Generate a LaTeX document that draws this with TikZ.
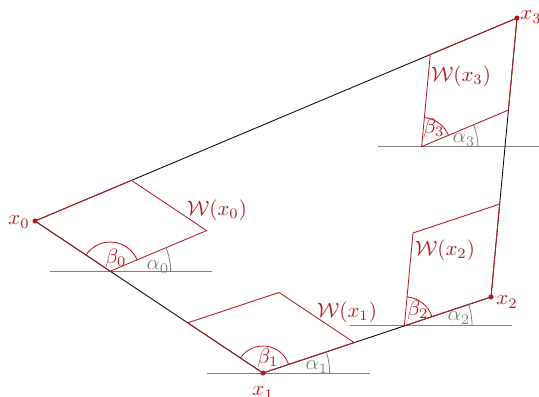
\documentclass[tikz,border=0pt]{standalone}
\usepackage{amsmath,amssymb}
\usetikzlibrary{calc,angles}
\definecolor{wred}{RGB}{178,24,30}

\begin{document}
\begin{tikzpicture}[x=0.48pt, y=-0.48pt,
  wedge/.style={draw=wred},
  horiz/.style={draw=gray},
  lab/.style={text=wred},
  glab/.style={text=gray}]
\useasboundingbox (0,0) rectangle (539,396);

\coordinate (x0) at (35,221);
\coordinate (x1) at (263,373);
\coordinate (x2) at (491,297);
\coordinate (x3) at (517,18);

% corners of the wedges
\coordinate (a0) at ($(x0)!0.33!(x1)$);
\coordinate (b0) at ($(x0)!0.2!(x3)$);
\coordinate (c0) at ($(a0)+(b0)-(x0)$);
\coordinate (a1) at ($(x1)!0.33!(x0)$);
\coordinate (b1) at ($(x1)!0.4!(x2)$);
\coordinate (c1) at ($(a1)+(b1)-(x1)$);
\coordinate (a2) at ($(x2)!0.38!(x1)$);
\coordinate (b2) at ($(x2)!0.333!(x3)$);
\coordinate (c2) at ($(a2)+(b2)-(x2)$);
\coordinate (a3) at ($(x3)!0.33!(x2)$);
\coordinate (b3) at ($(x3)!0.18!(x0)$);
\coordinate (c3) at ($(a3)+(b3)-(x3)$);

% horizontal lines
\coordinate (h0l) at ($(a0)+(-60,0)$);
\coordinate (h0r) at ($(a0)+(102,0)$);
\coordinate (h1l) at ($(x1)+(-56,0)$);
\coordinate (h1r) at ($(x1)+(107,0)$);
\coordinate (h2l) at ($(a2)+(-54,0)$);
\coordinate (h2r) at ($(a2)+(108,0)$);
\coordinate (h3l) at ($(c3)+(-44,0)$);
\coordinate (h3r) at ($(c3)+(118,0)$);

\draw[horiz] (h0l) -- (h0r);
\draw[horiz] (h1l) -- (h1r);
\draw[horiz] (h2l) -- (h2r);
\draw[horiz] (h3l) -- (h3r);

\draw (x0) -- (x1) -- (x2) -- (x3) -- cycle;

\draw[wedge] (x0) -- (a0) -- (c0) -- (b0) -- cycle;
\draw[wedge] (x1) -- (a1) -- (c1) -- (b1) -- cycle;
\draw[wedge] (x2) -- (a2) -- (c2) -- (b2) -- cycle;
\draw[wedge] (x3) -- (a3) -- (c3) -- (b3) -- cycle;

% angles
\pic[draw=wred, angle radius=14pt] {angle=c0--a0--x0};
\pic[draw=gray, angle radius=29pt] {angle=h0r--a0--c0};
\pic[draw=wred, angle radius=13pt] {angle=b1--x1--a1};
\pic[draw=gray, angle radius=32pt] {angle=h1r--x1--b1};
\pic[draw=wred, angle radius=14pt] {angle=x2--a2--c2};
\pic[draw=gray, angle radius=32.5pt] {angle=h2r--a2--x2};
\pic[draw=wred, angle radius=14pt] {angle=a3--c3--b3};
\pic[draw=gray, angle radius=27pt] {angle=h3r--c3--a3};

\fill[wred] (x0) circle (1.2pt);
\fill[wred] (x1) circle (1.2pt);
\fill[wred] (x2) circle (1.2pt);
\fill[wred] (x3) circle (1.2pt);

\node[lab] (l0) at (19,222) {$x_0$};
\node[lab] (l1) at (263,393) {$x_1$};
\node[lab] (l2) at (507,302) {$x_2$};
\node[lab] (l3) at (531,17) {$x_3$};

\node[lab] (w0) at (217,210) {$\mathcal{W}(x_0)$};
\node[lab] (w1) at (347,312) {$\mathcal{W}(x_1)$};
\node[lab] (w2) at (445,250) {$\mathcal{W}(x_2)$};
\node[lab] (w3) at (461,76) {$\mathcal{W}(x_3)$};

\node[lab] (be0) at (116,258) {$\beta_0$};
\node[lab] (be1) at (268,358) {$\beta_1$};
\node[lab] (be2) at (418,310) {$\beta_2$};
\node[lab] (be3) at (434,128) {$\beta_3$};

\node[glab] (al0) at (158,267) {$\alpha_0$};
\node[glab] (al1) at (317,367) {$\alpha_1$};
\node[glab] (al2) at (459,318) {$\alpha_2$};
\node[glab] (al3) at (464,140) {$\alpha_3$};
\end{tikzpicture}
\end{document}
